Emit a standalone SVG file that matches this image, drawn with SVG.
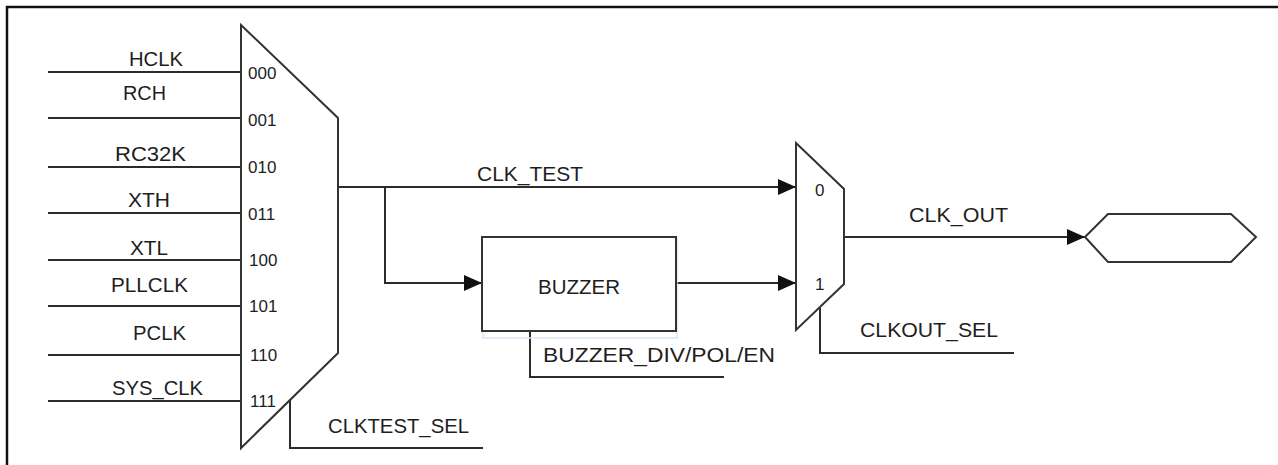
<svg xmlns="http://www.w3.org/2000/svg" width="1278" height="465" viewBox="0 0 1278 465">
<style>
.frame{stroke:#111;stroke-width:2.5;fill:none}
.wire{stroke:#2b2b2b;stroke-width:2;fill:none}
.shape{stroke:#333;stroke-width:2;fill:#fff}
.lbl{font-family:"Liberation Sans",Arial,sans-serif;font-size:21px;fill:#1e1e1e}
.port{font-family:"Liberation Sans",Arial,sans-serif;font-size:17px;fill:#1e1e1e}
</style>
<defs>
<marker id="arr" viewBox="0 0 18 16" refX="18" refY="8" markerWidth="18" markerHeight="16" markerUnits="userSpaceOnUse" orient="auto">
<path d="M0,0 L18,8 L0,16 Z" fill="#111"/>
</marker>
</defs>
<rect width="1278" height="465" fill="#fff"/>
<g id="frame">
<path class="frame" d="M7,465 V7 H1278"/>
</g>
<g id="connectors">
<path class="wire" d="M48,72 H241"/>
<path class="wire" d="M48,118 H241"/>
<path class="wire" d="M48,167 H241"/>
<path class="wire" d="M48,213 H241"/>
<path class="wire" d="M48,260 H241"/>
<path class="wire" d="M48,306 H241"/>
<path class="wire" d="M48,355 H241"/>
<path class="wire" d="M48,401 H241"/>
<path class="wire" d="M338,187 H796" marker-end="url(#arr)"/>
<path class="wire" d="M385,187 V283 H482" marker-end="url(#arr)"/>
<path class="wire" d="M676,283 H796" marker-end="url(#arr)"/>
<path class="wire" d="M844,237 H1085" marker-end="url(#arr)"/>
<path class="wire" d="M290,400 V448 H483"/>
<path class="wire" d="M530,331 V377 H724"/>
<path class="wire" d="M820,308 V353 H1014"/>
</g>
<g id="inputs">
<text class="lbl" x="129" y="66" textLength="54" lengthAdjust="spacingAndGlyphs">HCLK</text>
<text class="lbl" x="123" y="100" textLength="43" lengthAdjust="spacingAndGlyphs">RCH</text>
<text class="lbl" x="115" y="161" textLength="71" lengthAdjust="spacingAndGlyphs">RC32K</text>
<text class="lbl" x="128" y="207" textLength="42" lengthAdjust="spacingAndGlyphs">XTH</text>
<text class="lbl" x="130" y="255" textLength="38" lengthAdjust="spacingAndGlyphs">XTL</text>
<text class="lbl" x="111" y="292" textLength="77" lengthAdjust="spacingAndGlyphs">PLLCLK</text>
<text class="lbl" x="133" y="340" textLength="53" lengthAdjust="spacingAndGlyphs">PCLK</text>
<text class="lbl" x="112" y="395" textLength="91" lengthAdjust="spacingAndGlyphs">SYS_CLK</text>
</g>
<g id="mux1">
<path class="shape" d="M241,25 L338,118 L338,353 L241,448 Z"/>
<text class="port" x="248" y="79">000</text>
<text class="port" x="248" y="126">001</text>
<text class="port" x="248" y="173">010</text>
<text class="port" x="248" y="220">011</text>
<text class="port" x="249" y="266">100</text>
<text class="port" x="249" y="312">101</text>
<text class="port" x="250" y="361">110</text>
<text class="port" x="250" y="407">111</text>
<text class="lbl" x="328" y="433" textLength="141" lengthAdjust="spacingAndGlyphs">CLKTEST_SEL</text>
</g>
<g id="clk_test_label">
<text class="lbl" x="477" y="181" textLength="106" lengthAdjust="spacingAndGlyphs">CLK_TEST</text>
</g>
<g id="buzzer">
<rect x="483" y="239" width="194" height="99" fill="none" stroke="#dce6f2" stroke-width="1.5"/>
<rect class="shape" x="482" y="237" width="194" height="94"/>
<text class="lbl" x="538" y="294" textLength="82" lengthAdjust="spacingAndGlyphs">BUZZER</text>
<text class="lbl" x="543" y="362" textLength="232" lengthAdjust="spacingAndGlyphs">BUZZER_DIV/POL/EN</text>
</g>
<g id="mux2">
<path class="shape" d="M796,143 L844,189 L844,284 L796,330 Z"/>
<text class="port" x="815" y="196">0</text>
<text class="port" x="815" y="290">1</text>
<text class="lbl" x="860" y="337" textLength="138" lengthAdjust="spacingAndGlyphs">CLKOUT_SEL</text>
</g>
<g id="clk_out_label">
<text class="lbl" x="909" y="222" textLength="99" lengthAdjust="spacingAndGlyphs">CLK_OUT</text>
</g>
<g id="output_port">
<path class="shape" d="M1085,237 L1108,214 L1231,214 L1256,237 L1231,262 L1108,262 Z"/>
</g>
</svg>
